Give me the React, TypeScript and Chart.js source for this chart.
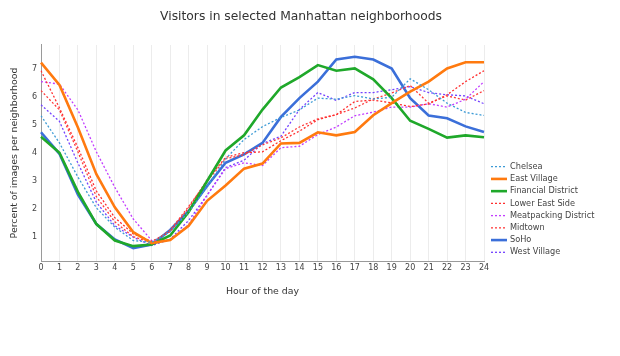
import React, { useEffect, useRef } from "react";
import { Chart, registerables } from "chart.js";

Chart.register(...registerables);

const hours = ["0","1","2","3","4","5","6","7","8","9","10","11","12","13","14","15","16","17","18","19","20","21","22","23","24"];
const yTicks = [1, 2, 3, 4, 5, 6, 7];

const chelsea = [5.34, 4.37, 3.15, 2.05, 1.36, 0.88, 0.82, 1.2, 1.9, 2.8, 3.8, 4.49, 4.95, 5.28, 5.55, 5.97, 5.93, 6.06, 5.94, 6.0, 6.66, 6.27, 5.79, 5.46, 5.35];
const eastVillage = [7.24, 6.44, 4.92, 3.25, 2.07, 1.18, 0.79, 0.9, 1.41, 2.3, 2.85, 3.45, 3.63, 4.35, 4.37, 4.75, 4.64, 4.76, 5.36, 5.79, 6.2, 6.56, 7.03, 7.25, 7.25];
const financialDistrict = [4.59, 4.02, 2.62, 1.47, 0.88, 0.68, 0.74, 1.06, 1.9, 3.01, 4.1, 4.64, 5.56, 6.35, 6.72, 7.15, 6.95, 7.03, 6.64, 5.97, 5.16, 4.87, 4.56, 4.64, 4.57];
const lowerEastSide = [6.95, 5.62, 4.2, 2.65, 1.7, 1.12, 0.85, 1.2, 2.05, 3.05, 3.85, 4.02, 4.05, 4.45, 4.79, 5.2, 5.38, 5.85, 5.9, 5.8, 5.67, 5.76, 6.09, 6.56, 6.95];
const meatpackingDistrict = [6.56, 6.47, 5.55, 4.05, 2.78, 1.65, 0.88, 0.9, 1.45, 2.5, 3.45, 3.66, 3.56, 4.2, 4.25, 4.67, 4.94, 5.34, 5.47, 5.65, 5.65, 5.77, 5.65, 5.93, 6.56];
const midtown = [6.24, 5.55, 4.05, 2.45, 1.55, 1.02, 0.8, 1.25, 2.1, 3.0, 3.8, 3.95, 4.3, 4.55, 4.94, 5.23, 5.38, 5.62, 5.94, 6.15, 6.42, 5.79, 6.05, 5.9, 6.24];
const soho = [4.75, 3.98, 2.52, 1.47, 0.92, 0.61, 0.74, 1.26, 1.94, 2.83, 3.66, 3.96, 4.37, 5.3, 5.97, 6.56, 7.35, 7.45, 7.35, 7.03, 5.97, 5.35, 5.25, 4.96, 4.76];
const westVillage = [5.73, 5.14, 3.65, 2.25, 1.41, 1.0, 0.7, 0.93, 1.6, 2.5, 3.49, 3.75, 4.35, 4.61, 5.56, 6.17, 5.89, 6.17, 6.17, 6.27, 6.38, 6.17, 6.09, 6.05, 5.77];

const FONT = "'DejaVu Sans', Verdana, sans-serif";

const series = [
  { label: "Chelsea", data: chelsea, color: "#3d9bd6", solid: false },
  { label: "East Village", data: eastVillage, color: "#ff7a0f", solid: true },
  { label: "Financial District", data: financialDistrict, color: "#1fa82a", solid: true },
  { label: "Lower East Side", data: lowerEastSide, color: "#ff2e2e", solid: false },
  { label: "Meatpacking District", data: meatpackingDistrict, color: "#c23dff", solid: false },
  { label: "Midtown", data: midtown, color: "#ff3b3b", solid: false },
  { label: "SoHo", data: soho, color: "#3b6fd9", solid: true },
  { label: "West Village", data: westVillage, color: "#7443ff", solid: false },
];

const legendPlugin = {
  id: "customLegend",
  afterDraw(chart: any) {
    const ctx = chart.ctx;
    const area = chart.chartArea;
    const x0 = area.right + 7;
    const y0 = 166.7;
    const step = 12.23;
    ctx.save();
    chart.data.datasets.forEach((ds: any, i: number) => {
      const y = y0 + i * step;
      ctx.beginPath();
      ctx.setLineDash(ds.borderDash || []);
      ctx.lineWidth = ds.borderWidth;
      ctx.strokeStyle = ds.borderColor;
      ctx.moveTo(x0, y);
      ctx.lineTo(x0 + 16, y);
      ctx.stroke();
      ctx.setLineDash([]);
      ctx.fillStyle = "#444";
      ctx.font = `8.2px ${FONT}`;
      ctx.textBaseline = "middle";
      ctx.textAlign = "left";
      ctx.fillText(ds.label, x0 + 19, y);
    });
    ctx.restore();
  },
};

export default function App() {
  const ref = useRef<HTMLCanvasElement>(null);
  useEffect(() => {
    if (!ref.current) return;
    const chart = new Chart(ref.current, {
      type: "line",
      data: {
        labels: hours,
        datasets: series.map((s) => ({
          label: s.label,
          data: s.data,
          borderColor: s.color,
          backgroundColor: s.color,
          borderWidth: s.solid ? 2.6 : 1.3,
          borderDash: s.solid ? [] : [2, 2],
          pointRadius: 0,
          tension: 0,
          fill: false,
        })),
      },
      options: {
        responsive: false,
        animation: false,
        events: [],
        layout: { padding: { left: 0, right: 18, top: 0, bottom: 0 } },
        plugins: {
          legend: { display: false },
          tooltip: { enabled: false },
          title: {
            display: true,
            text: "Visitors in selected Manhattan neighborhoods",
            color: "#333",
            font: { family: FONT, size: 12.3, weight: "normal", lineHeight: 1.2 },
            padding: { top: 9, bottom: 21.2 },
          },
        },
        scales: {
          x: {
            type: "category",
            offset: false,
            grid: { display: true, color: "#ececec", lineWidth: 1, drawTicks: false },
            border: { display: true, color: "#9a9a9a", width: 1 },
            ticks: {
              color: "#444",
              font: { family: FONT, size: 8 },
              padding: 2.5,
              maxRotation: 0,
              autoSkip: false,
            },
            title: {
              display: true,
              text: "Hour of the day",
              color: "#333",
              font: { family: FONT, size: 9.4 },
              padding: { top: 0, bottom: 59 },
            },
            afterFit(scale: any) {
              scale.height = 95;
            },
          },
          y: {
            type: "linear",
            min: 0.15,
            max: 7.87,
            grid: { display: false, drawTicks: false },
            border: { display: true, color: "#9a9a9a", width: 1 },
            afterBuildTicks(scale: any) {
              scale.ticks = yTicks.map((v) => ({ value: v }));
            },
            ticks: {
              color: "#444",
              font: { family: FONT, size: 8 },
              padding: 4,
            },
            title: {
              display: true,
              text: "Percent of images per neighborhood",
              color: "#333",
              font: { family: FONT, size: 9.4 },
              padding: { top: 9, bottom: 0 },
            },
            afterFit(scale: any) {
              scale.width = 41;
            },
          },
          yRight: {
            type: "linear",
            position: "right",
            display: true,
            grid: { display: false, drawTicks: false },
            border: { display: false },
            ticks: { display: false },
            afterFit(scale: any) {
              scale.width = 118;
            },
          },
        },
      },
      plugins: [legendPlugin],
    });
    return () => chart.destroy();
  }, []);
  return (
    <div style={{ position: "fixed", left: 0, top: 0, width: 620, height: 356, background: "#fff" }}>
      <canvas ref={ref} width={620} height={356} style={{ width: 620, height: 356, display: "block" }} />
    </div>
  );
}
